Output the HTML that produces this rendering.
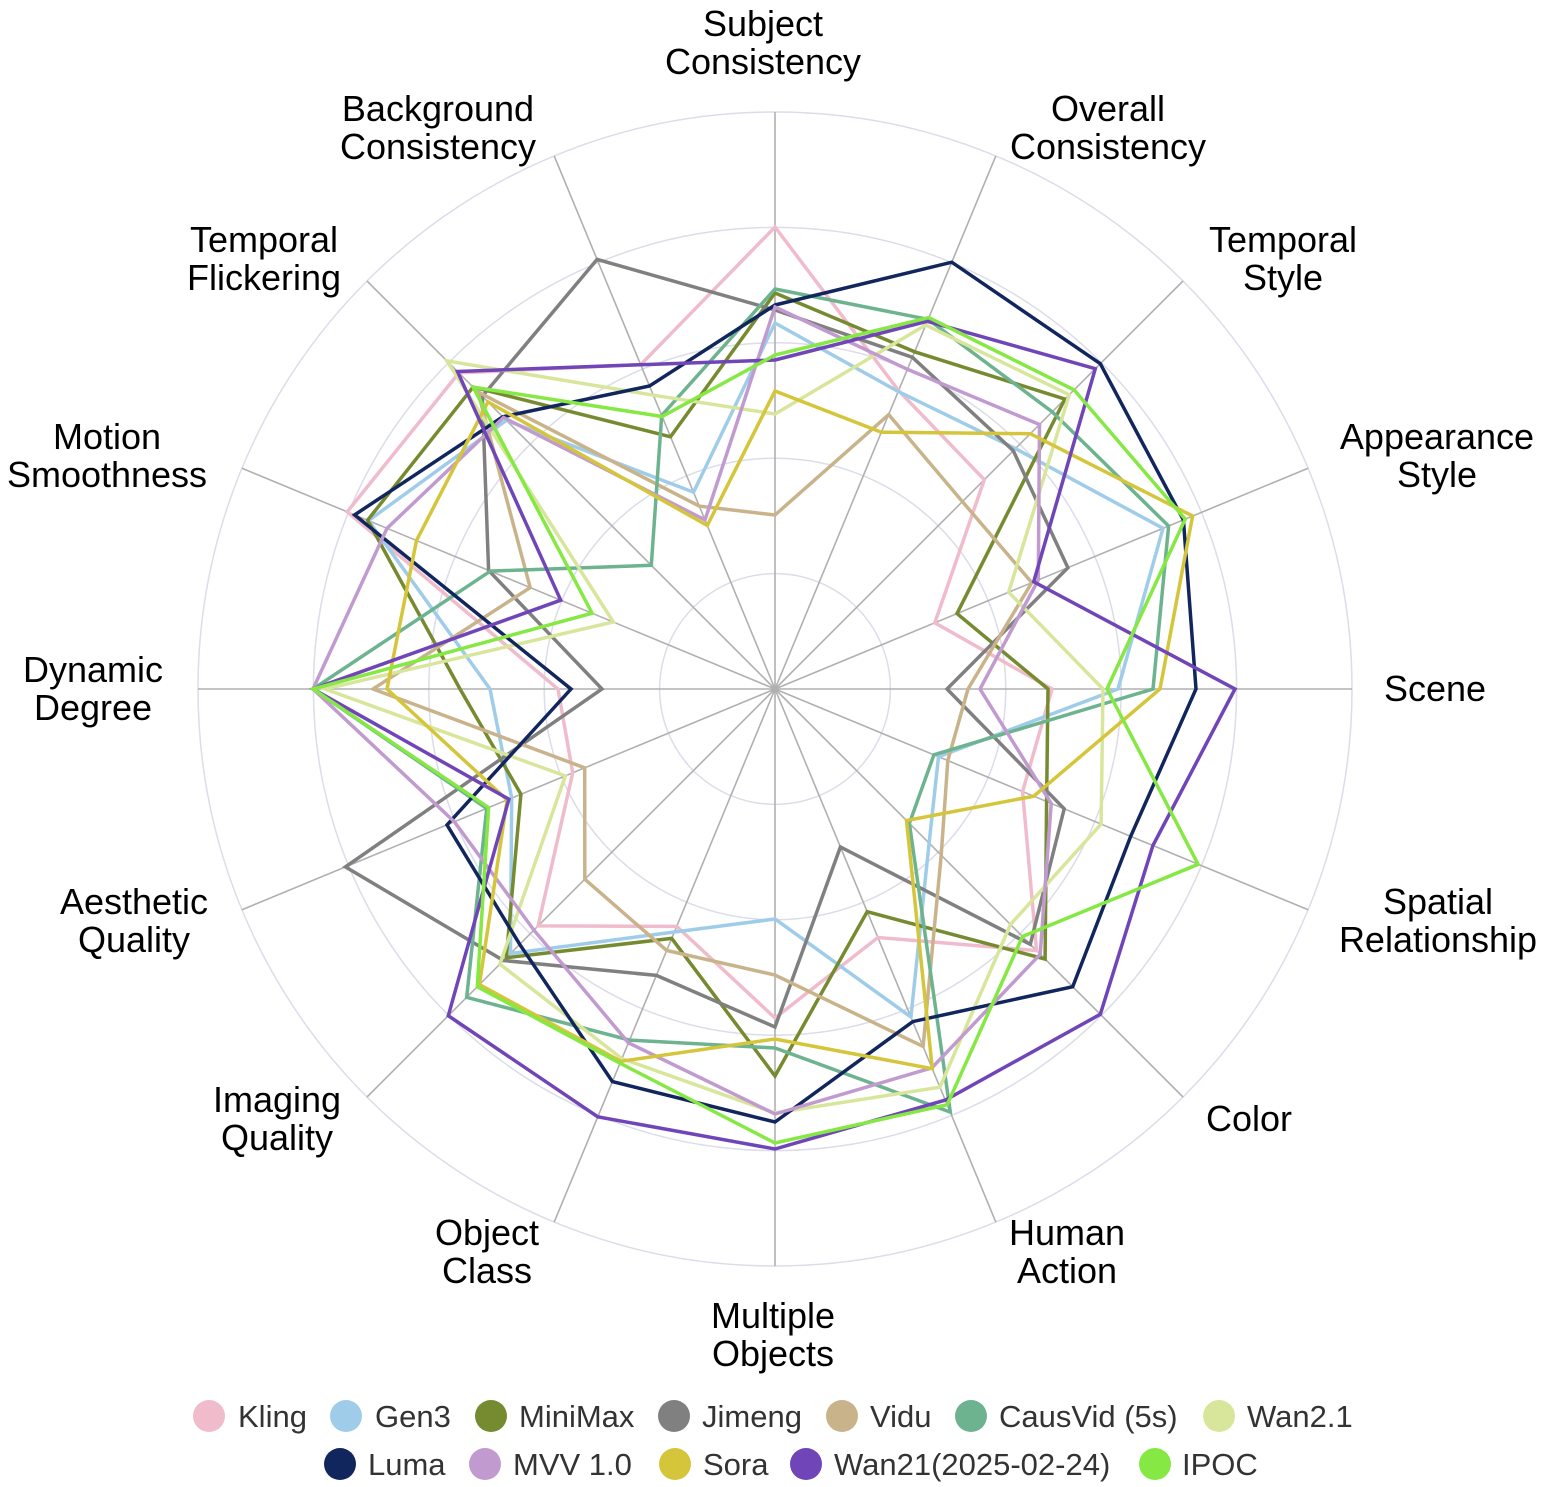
<!DOCTYPE html>
<html><head><meta charset="utf-8"><style>
html,body{margin:0;padding:0;background:#fff;}
svg{display:block;}
text{font-family:"Liberation Sans",Arial,sans-serif;}
</style></head><body>
<svg id="s" width="1544" height="1487" viewBox="0 0 1544 1487" xmlns="http://www.w3.org/2000/svg">
<g id="grid"></g>
<g id="series"></g>
<g font-size="36" fill="#000" text-anchor="middle">
<text x="763" y="36">Subject<tspan x="763" dy="38">Consistency</tspan></text>
<text x="1108" y="121">Overall<tspan x="1108" dy="38">Consistency</tspan></text>
<text x="1283" y="252">Temporal<tspan x="1283" dy="38">Style</tspan></text>
<text x="1437" y="449">Appearance<tspan x="1437" dy="38">Style</tspan></text>
<text x="1435" y="701">Scene</text>
<text x="1438" y="914">Spatial<tspan x="1438" dy="38">Relationship</tspan></text>
<text x="1249" y="1131">Color</text>
<text x="1067" y="1245">Human<tspan x="1067" dy="38">Action</tspan></text>
<text x="773" y="1328">Multiple<tspan x="773" dy="38">Objects</tspan></text>
<text x="487" y="1245">Object<tspan x="487" dy="38">Class</tspan></text>
<text x="277" y="1112">Imaging<tspan x="277" dy="38">Quality</tspan></text>
<text x="134" y="914">Aesthetic<tspan x="134" dy="38">Quality</tspan></text>
<text x="93" y="682">Dynamic<tspan x="93" dy="38">Degree</tspan></text>
<text x="107" y="449">Motion<tspan x="107" dy="38">Smoothness</tspan></text>
<text x="264" y="252">Temporal<tspan x="264" dy="38">Flickering</tspan></text>
<text x="438" y="121">Background<tspan x="438" dy="38">Consistency</tspan></text>
</g>
<g font-size="31" fill="#333">
<circle cx="209" cy="1416" r="16" fill="#f0bccb"/><text x="238" y="1427">Kling</text>
<circle cx="346" cy="1416" r="16" fill="#9fcde9"/><text x="375" y="1427">Gen3</text>
<circle cx="491" cy="1416" r="16" fill="#768a2f"/><text x="519" y="1427">MiniMax</text>
<circle cx="674" cy="1416" r="16" fill="#808080"/><text x="702" y="1427">Jimeng</text>
<circle cx="842" cy="1416" r="16" fill="#c9b38b"/><text x="870" y="1427">Vidu</text>
<circle cx="971" cy="1416" r="16" fill="#6db38f"/><text x="999" y="1427">CausVid (5s)</text>
<circle cx="1219" cy="1416" r="16" fill="#d8e69c"/><text x="1247" y="1427">Wan2.1</text>
<circle cx="340" cy="1464" r="16" fill="#12265e"/><text x="368" y="1475">Luma</text>
<circle cx="485" cy="1464" r="16" fill="#c19bcf"/><text x="513" y="1475">MVV 1.0</text>
<circle cx="675" cy="1464" r="16" fill="#d5c53a"/><text x="703" y="1475">Sora</text>
<circle cx="806" cy="1464" r="16" fill="#6f45b8"/><text x="834" y="1475">Wan21(2025-02-24)</text>
<circle cx="1155" cy="1464" r="16" fill="#86e843"/><text x="1182" y="1475">IPOC</text>
</g>
</svg>
<script>
(function(){
var NS="http://www.w3.org/2000/svg",cx=775,cy=689,R=577;
var g=document.getElementById("grid"),sg=document.getElementById("series");
function el(t,a,p){var e=document.createElementNS(NS,t);for(var k in a)e.setAttribute(k,a[k]);p.appendChild(e);return e;}
for(var i=1;i<=5;i++)el("circle",{cx:cx,cy:cy,r:R*i/5,fill:"none",stroke:"#dcdcea","stroke-width":1.5},g);
function pt(k,r){var a=(-90+22.5*k)*Math.PI/180;return [cx+r*Math.cos(a),cy+r*Math.sin(a)];}
for(var k=0;k<16;k++){var p=pt(k,R);el("line",{x1:cx,y1:cy,x2:p[0].toFixed(1),y2:p[1].toFixed(1),stroke:"#b0b0b0","stroke-width":1.6},g);}
var S=[
["#f0bccb",[462,323,296,173,277,268,370,269,329,257,335,219,217,463,447,351]],
["#9fcde9",[366,322,340,420,343,177,218,355,230,263,374,285,285,440,380,213]],
["#768a2f",[396,365,410,197,273,294,382,241,387,270,380,275,315,441,427,273]],
["#808080",[379,359,337,317,172,313,361,171,338,310,384,465,173,310,414,465]],
["#c9b38b",[174,297,265,278,193,187,235,387,286,283,269,206,402,265,420,198]],
["#6db38f",[400,400,392,426,378,172,190,458,359,380,436,312,462,308,175,296]],
["#d8e69c",[275,394,416,253,328,353,333,431,424,400,389,227,450,175,464,318]],
["#12265e",[384,462,460,442,421,385,421,360,433,425,361,355,204,455,385,328]],
["#c19bcf",[382,346,374,285,205,299,375,410,425,383,341,347,462,420,384,183]],
["#d5c53a",[298,278,361,452,385,280,186,411,350,403,418,290,388,388,406,177]],
["#6f45b8",[329,398,453,280,460,409,460,445,460,463,462,288,462,232,449,351]],
["#86e843",[334,402,423,444,332,458,350,450,454,405,421,310,462,198,427,295]]];
S.forEach(function(s){var pts=s[1].map(function(r,k){var p=pt(k,r);return p[0].toFixed(1)+","+p[1].toFixed(1);}).join(" ");
el("polygon",{points:pts,fill:"none",stroke:s[0],"stroke-width":3.5,"stroke-linejoin":"miter"},sg);});
})();
</script>
</body></html>
